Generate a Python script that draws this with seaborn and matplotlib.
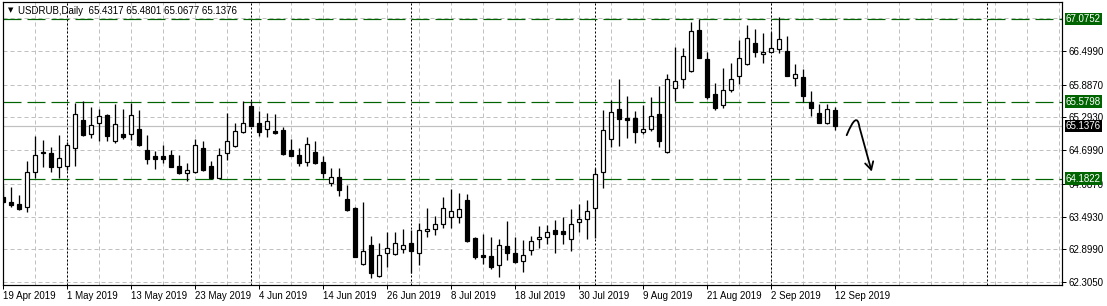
import numpy as np
import pandas as pd
import matplotlib
matplotlib.use("Agg")
import matplotlib.pyplot as plt
import matplotlib.transforms as mtrans
from matplotlib.path import Path
from matplotlib.patches import FancyArrowPatch
import seaborn as sns

# ---------------- data ----------------
symbol = "USDRUB,Daily"
dates = pd.bdate_range("2019-04-19", periods=105)

opens = [63.84, 63.76, 63.72, 63.66, 64.30, 64.67, 64.64, 64.39, 64.41, 64.73,
         65.25, 64.99, 65.19, 65.34, 64.87, 64.99, 65.00, 65.08, 64.70, 64.59,
         64.60, 64.61, 64.41, 64.29, 64.30, 64.73, 64.41, 64.20, 64.64, 64.77,
         65.02, 65.50, 65.20, 65.08, 65.05, 65.06, 64.70, 64.61, 64.49, 64.66,
         64.48, 64.10, 64.22, 63.82, 63.64, 62.63, 62.97, 62.41, 62.84, 62.81,
         62.90, 63.01, 62.84, 63.23, 63.26, 63.36, 63.49, 63.48, 63.79, 63.10,
         62.80, 62.77, 62.61, 62.95, 62.84, 62.69, 62.88, 63.08, 63.13, 63.24,
         63.23, 63.09, 63.39, 63.44, 63.64, 64.30, 64.91, 65.44, 65.28, 65.28,
         65.02, 65.08, 65.35, 64.66, 65.83, 65.99, 66.13, 66.88, 66.35, 65.71,
         65.51, 65.79, 66.05, 66.26, 66.64, 66.44, 66.49, 66.53, 66.50, 66.00,
         66.02, 65.58, 65.37, 65.19, 65.4317]
highs = [64.07, 64.03, 63.88, 64.50, 64.96, 64.88, 64.75, 64.97, 64.85, 65.56,
         65.59, 65.48, 65.45, 65.36, 65.54, 65.45, 65.55, 65.43, 64.97, 64.68,
         64.79, 64.71, 64.61, 64.47, 64.91, 64.87, 64.50, 64.73, 65.38, 65.19,
         65.59, 65.59, 65.41, 65.37, 65.36, 65.12, 64.90, 64.73, 64.93, 64.87,
         64.59, 64.37, 64.37, 64.06, 63.67, 63.76, 63.14, 63.01, 63.21, 63.22,
         63.27, 63.25, 63.38, 63.64, 63.50, 63.84, 63.99, 63.92, 63.90, 63.13,
         63.17, 63.13, 63.08, 63.42, 63.12, 63.06, 63.14, 63.32, 63.34, 63.43,
         63.48, 63.63, 63.72, 63.79, 64.37, 65.42, 65.61, 65.99, 65.68, 65.41,
         65.52, 65.66, 65.86, 66.09, 66.58, 66.55, 67.03, 67.08, 66.48, 65.91,
         66.19, 66.29, 66.70, 66.97, 66.90, 66.82, 66.85, 67.11, 66.77, 66.26,
         66.17, 65.77, 65.53, 65.53, 65.4801]
lows = [63.74, 63.67, 63.62, 63.58, 64.19, 64.39, 64.31, 64.19, 64.34, 64.41,
        64.95, 64.92, 64.87, 64.87, 64.82, 64.91, 64.88, 64.77, 64.45, 64.36,
        64.47, 64.39, 64.27, 64.13, 64.29, 64.32, 64.18, 64.19, 64.52, 64.76,
        65.01, 65.13, 64.96, 64.93, 64.99, 64.61, 64.59, 64.42, 64.42, 64.45,
        64.19, 64.05, 63.87, 63.60, 62.755, 62.62, 62.37, 62.40, 62.58, 62.80,
        62.84, 62.47, 62.61, 63.13, 63.15, 63.28, 63.28, 63.38, 63.03, 62.73,
        62.64, 62.54, 62.40, 62.70, 62.655, 62.49, 62.80, 62.92, 62.99, 62.83,
        62.99, 62.87, 63.22, 63.08, 63.10, 64.01, 64.75, 64.77, 64.92, 64.83,
        65.00, 65.05, 64.76, 64.65, 65.59, 65.83, 66.12, 66.37, 65.62, 65.42,
        65.47, 65.75, 65.90, 66.25, 66.39, 66.29, 66.48, 66.47, 66.045, 65.86,
        65.57, 65.32, 65.19, 65.18, 65.0677]
closes = [63.76, 63.71, 63.63, 64.30, 64.61, 64.64, 64.39, 64.55, 64.80, 65.35,
          64.98, 65.15, 65.31, 64.96, 65.17, 64.94, 65.34, 64.80, 64.53, 64.53,
          64.53, 64.40, 64.28, 64.34, 64.80, 64.33, 64.20, 64.61, 64.87, 65.05,
          65.19, 65.14, 65.03, 65.22, 65.01, 64.62, 64.60, 64.47, 64.81, 64.46,
          64.29, 64.22, 63.97, 63.61, 62.76, 62.86, 62.47, 62.79, 62.92, 63.01,
          62.97, 62.87, 63.25, 63.27, 63.36, 63.64, 63.59, 63.63, 63.04, 62.75,
          62.76, 62.57, 62.97, 62.83, 62.66, 62.79, 63.04, 63.12, 63.21, 63.17,
          63.17, 63.36, 63.44, 63.59, 64.26, 65.06, 65.40, 65.26, 65.25, 65.02,
          65.08, 65.31, 64.87, 65.99, 65.95, 66.40, 66.86, 66.38, 65.67, 65.46,
          65.79, 65.99, 66.37, 66.73, 66.48, 66.48, 66.55, 66.71, 66.05, 66.09,
          65.69, 65.47, 65.20, 65.44, 65.1376]

levels = [67.0752, 65.5798, 64.1822]
grid_prices = [67.1050, 66.4990, 65.8870, 65.2930, 64.6990, 64.0870, 63.4930, 62.8990, 62.3050]
future_separator_date = pd.Timestamp("2019-10-01")

# ---------------- style ----------------
sns.set_theme(style="white")
plt.rcParams['font.family'] = ['Liberation Sans', 'DejaVu Sans']

W, H = 1107, 306
PX = 0.72  # one pixel in points at dpi 100
GRID = "#c0c0c0"
GREEN = "#006400"

fig = plt.figure(figsize=(W / 100, H / 100), dpi=100)
ax = fig.add_axes([3 / W, 1 - 285 / H, 1059 / W, 283 / H])

df = pd.DataFrame({"date": dates, "open": opens, "high": highs,
                   "low": lows, "close": closes})
df["idx"] = np.arange(len(df))
df["up"] = df["close"] >= df["open"]

n_view = 132.375
ax.set_xlim(0, n_view)
ax.set_ylim(62.250, 67.389)

# grid
for gx in np.arange(0, n_view, 4):
    ax.axvline(gx, color=GRID, lw=PX, ls=(0, (4, 3)), zorder=1)
for gy in grid_prices:
    ax.axhline(gy, color=GRID, lw=PX, ls=(0, (4, 3)), zorder=1)

# month separators
month_first = df.groupby(df["date"].dt.to_period("M"))["idx"].min().tolist()[1:]
last_i = df["idx"].iloc[-1]
fut = last_i + (future_separator_date - df["date"].iloc[-1]).days
for sx in month_first + [fut]:
    ax.axvline(sx, color="black", lw=PX, ls=(0, (2, 2)), zorder=2)

# current price line
ax.axhline(closes[-1], color=GRID, lw=PX * 1.2, zorder=2)

# levels
for lv in levels:
    ax.axhline(lv, color=GREEN, lw=PX * 1.2, ls=(0, (15, 5)), zorder=2)

# candles
ax.vlines(df["idx"], df["low"], df["high"], color="black", lw=PX * 1.3, zorder=3)
body_bottom = np.minimum(df["open"], df["close"])
body_h = np.maximum(np.abs(df["close"] - df["open"]), 0.008)
ax.bar(df["idx"], body_h, bottom=body_bottom, width=0.62,
       color=np.where(df["up"], "white", "black"), edgecolor="black",
       linewidth=PX * 1.2, zorder=4)

# arrow
verts = [(105.46, 64.97), (106.75, 65.43), (107.05, 65.12), (108.59, 64.31)]
codes = [Path.MOVETO, Path.CURVE3, Path.CURVE3, Path.LINETO]
arr = FancyArrowPatch(path=Path(verts, codes),
                      arrowstyle="->,head_length=0.55,head_width=0.3",
                      mutation_scale=10, lw=1.3, color="black", zorder=6)
ax.add_patch(arr)

# axes, ticks
for s in ax.spines.values():
    s.set_color("black")
    s.set_linewidth(PX * 1.2)
ax.yaxis.tick_right()
ax.set_yticks(grid_prices[1:])
ax.set_yticklabels([f"{v:.4f}" for v in grid_prices[1:]])
xt = list(range(0, len(df), 8))
ax.set_xticks(xt)
ax.set_xticklabels([f"{d.day} {d.strftime('%b %Y')}" for d in df["date"].iloc[xt]])
for lbl in ax.get_xticklabels():
    lbl.set_ha("left")
ax.tick_params(axis="both", which="both", direction="out", length=3, width=PX,
               color="black", labelsize=7, labelcolor="black")
ax.tick_params(axis="y", pad=2, left=False, right=True)
ax.tick_params(axis="x", pad=1.5, bottom=True)
ax.grid(False)

# boxed price labels
blend = mtrans.blended_transform_factory(ax.transAxes, ax.transData)
tr = mtrans.offset_copy(blend, fig=fig, x=4, y=0, units="dots")
for lv in levels:
    ax.text(1.0, lv, f"{lv:.4f}", transform=tr, ha="left", va="center",
            fontsize=7, color="white", clip_on=False, zorder=10,
            bbox=dict(boxstyle="square,pad=0.12", fc=GREEN, ec="none"))
ax.text(1.0, closes[-1], f"{closes[-1]:.4f}", transform=tr, ha="left", va="center",
        fontsize=7, color="white", clip_on=False, zorder=10,
        bbox=dict(boxstyle="square,pad=0.12", fc="black", ec="none"))

# header
fig.text(7.5 / W, 1 - 10.5 / H, "\u25BC", fontsize=5, ha="left", va="center",
         family=["DejaVu Sans"], color="black")
hdr = f"{symbol}  {opens[-1]:.4f} {highs[-1]:.4f} {lows[-1]:.4f} {closes[-1]:.4f}"
fig.text(18 / W, 1 - 11 / H, hdr, fontsize=7, ha="left", va="center", color="black")

fig.savefig("out.png", dpi=100)
